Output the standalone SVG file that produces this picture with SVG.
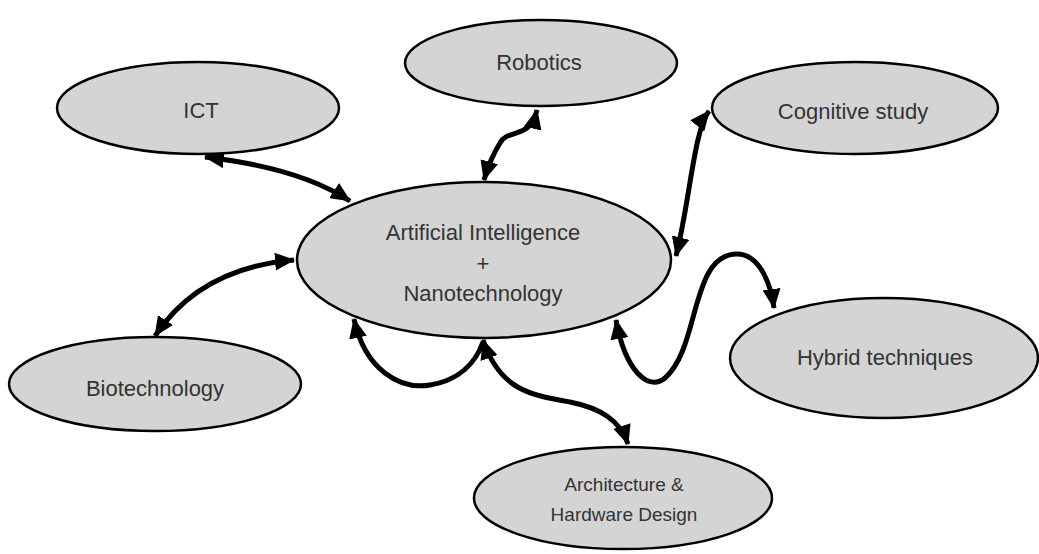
<svg xmlns="http://www.w3.org/2000/svg" width="1039" height="554" viewBox="0 0 1039 554">
  <style>
    .node ellipse { fill: #d4d4d4; stroke: #000; stroke-width: 2.5; }
    .node text { font-family: "Liberation Sans", Arial, sans-serif; font-size: 22px; fill: #333; text-anchor: middle; }
    .node text.small { font-size: 19px; }
    .conn path { fill: none; stroke: #000; stroke-width: 5; stroke-linecap: butt; }
  </style>
  <defs>
    <marker id="ah" viewBox="0 0 20 18" refX="19" refY="9" markerWidth="20" markerHeight="18" markerUnits="userSpaceOnUse" orient="auto-start-reverse">
      <path d="M0,0 L20,9 L0,18 z" fill="#000"/>
    </marker>
  </defs>
  <rect width="1039" height="554" fill="#fff"/>

  <g id="connectors" class="conn">
    <path d="M205,157 Q300,168 350,201" marker-start="url(#ah)" marker-end="url(#ah)"/>
    <path d="M537,110 C530,140 508,128 500,143 C492,156 488,166 484,180" marker-start="url(#ah)" marker-end="url(#ah)"/>
    <path d="M709,111 C694,130 690,200 676,256" marker-start="url(#ah)" marker-end="url(#ah)"/>
    <path d="M155,336 Q200,268 294,260" marker-start="url(#ah)" marker-end="url(#ah)"/>
    <path d="M616,320 C625,370 648,392 665,378 C700,348 690,254 737,254 C760,254 771,285 774,308" marker-start="url(#ah)" marker-end="url(#ah)"/>
    <path d="M354,319 C365,370 400,390 430,385 C460,380 476,362 483,342" marker-start="url(#ah)"/>
    <path d="M483,340 C500,390 530,395 570,402 C600,408 620,420 628,444" marker-start="url(#ah)" marker-end="url(#ah)"/>
  </g>

  <g id="ict" class="node">
    <ellipse cx="198" cy="108" rx="141" ry="46"/>
    <text x="201" y="118">ICT</text>
  </g>
  <g id="robotics" class="node">
    <ellipse cx="541" cy="63" rx="136" ry="43"/>
    <text x="539" y="70">Robotics</text>
  </g>
  <g id="cognitive" class="node">
    <ellipse cx="855" cy="108" rx="143" ry="46"/>
    <text x="853" y="119">Cognitive study</text>
  </g>
  <g id="ai" class="node">
    <ellipse cx="484" cy="260" rx="187" ry="78"/>
    <text x="483" y="240">Artificial Intelligence</text>
    <text x="483" y="271">+</text>
    <text x="483" y="301">Nanotechnology</text>
  </g>
  <g id="biotech" class="node">
    <ellipse cx="155" cy="384" rx="146" ry="47"/>
    <text x="155" y="396">Biotechnology</text>
  </g>
  <g id="hybrid" class="node">
    <ellipse cx="884" cy="358" rx="154" ry="60"/>
    <text x="885" y="365">Hybrid techniques</text>
  </g>
  <g id="architecture" class="node">
    <ellipse cx="623" cy="498" rx="149" ry="51"/>
    <text class="small" x="624" y="491">Architecture &amp;</text>
    <text class="small" x="624" y="521">Hardware Design</text>
  </g>
</svg>
